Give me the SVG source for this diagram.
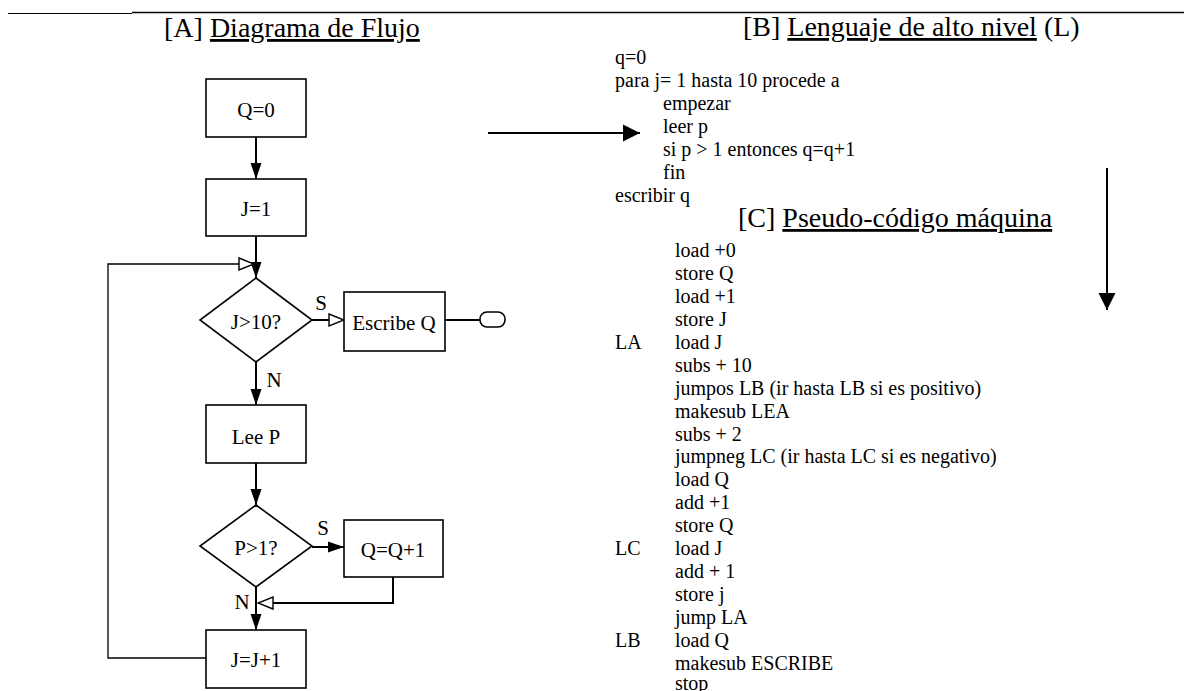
<svg xmlns="http://www.w3.org/2000/svg" width="1184" height="691" viewBox="0 0 1184 691">
<style>
text{font-family:"Liberation Serif","Times New Roman",serif;fill:#000}
.t{font-size:28px}
.n{font-size:21px;text-anchor:middle}
.c{font-size:20px}
.box{fill:#fff;stroke:#000;stroke-width:1.6}
.con{fill:none;stroke:#000;stroke-width:2}
.thin{fill:none;stroke:#000;stroke-width:1.3}
</style>
<defs>
<marker id="fa" markerUnits="userSpaceOnUse" markerWidth="16" markerHeight="12" refX="16" refY="6" orient="auto"><path d="M0,0.5 L16,6 L0,11.5 z" fill="#000"/></marker>
<marker id="ha" markerUnits="userSpaceOnUse" markerWidth="17" markerHeight="14" refX="16" refY="7" orient="auto"><path d="M1,1 L16,7 L1,13 z" fill="#fff" stroke="#000" stroke-width="1.4"/></marker>
<marker id="ba" markerUnits="userSpaceOnUse" markerWidth="17" markerHeight="18" refX="17" refY="9" orient="auto"><path d="M0,0.5 L17,9 L0,17.5 z" fill="#000"/></marker>
</defs>
<rect width="1184" height="691" fill="#fff"/>
<line x1="8" y1="13.5" x2="132" y2="13.5" stroke="#000" stroke-width="1"/>
<line x1="132" y1="12.5" x2="1184" y2="12.5" stroke="#000" stroke-width="1.6"/>
<g id="titles">
<text class="t" x="164" y="37">[A] <tspan text-decoration="underline">Diagrama de Flujo</tspan></text>
<text class="t" x="743" y="36">[B] <tspan text-decoration="underline">Lenguaje de alto nivel</tspan> (L)</text>
<text class="t" x="738" y="227">[C] <tspan text-decoration="underline">Pseudo-código máquina</tspan></text>
</g>
<g id="connectors">
<path class="con" d="M256,137 V179" marker-end="url(#fa)"/>
<path class="con" d="M256,236 V278" marker-end="url(#fa)"/>
<path class="con" d="M312,320 H344" marker-end="url(#ha)"/>
<path class="con" d="M445,320 H480"/>
<path class="con" d="M256,362 V405" marker-end="url(#fa)"/>
<path class="con" d="M256,463 V505" marker-end="url(#fa)"/>
<path class="con" d="M312,547 H344" marker-end="url(#fa)"/>
<path class="con" d="M393,577 V603 H258" marker-end="url(#ha)"/>
<path class="con" d="M256,587 V630" marker-end="url(#fa)"/>
<path class="thin" d="M206,658 H108 V264 H254" marker-end="url(#ha)"/>
<path class="con" d="M488,133 H640" marker-end="url(#ba)"/>
<path class="con" d="M1107,168 V310" marker-end="url(#ba)"/>
<text class="n" x="321" y="310">S</text>
<text class="n" x="274" y="387">N</text>
<text class="n" x="323" y="535">S</text>
<text class="n" x="242" y="609">N</text>
</g>
<g id="node-q0"><rect class="box" x="206" y="79" width="100" height="58"/><text class="n" x="256" y="117">Q=0</text></g>
<g id="node-j1"><rect class="box" x="206" y="179" width="100" height="57"/><text class="n" x="256" y="216">J=1</text></g>
<g id="node-d1"><path class="box" d="M256,278 L312,320 L256,362 L200,320 z"/><text class="n" x="256" y="329">J&gt;10?</text></g>
<g id="node-escribe"><rect class="box" x="344" y="292" width="101" height="59"/><text class="n" x="394" y="330">Escribe Q</text></g>
<g id="node-end"><rect class="box" x="480" y="312" width="25" height="15" rx="7" ry="7"/></g>
<g id="node-leep"><rect class="box" x="206" y="405" width="100" height="58"/><text class="n" x="256" y="444">Lee P</text></g>
<g id="node-d2"><path class="box" d="M256,505 L312,546 L256,587 L200,546 z"/><text class="n" x="256" y="555">P&gt;1?</text></g>
<g id="node-qq1"><rect class="box" x="344" y="520" width="99" height="57"/><text class="n" x="393" y="557">Q=Q+1</text></g>
<g id="node-jj1"><rect class="box" x="206" y="630" width="100" height="58"/><text class="n" x="256" y="667">J=J+1</text></g>
<g id="code-b">
<text class="c" x="615" y="64">q=0</text>
<text class="c" x="615" y="87">para j= 1 hasta 10 procede a</text>
<text class="c" x="663" y="110">empezar</text>
<text class="c" x="663" y="133">leer p</text>
<text class="c" x="663" y="156">si p &gt; 1 entonces q=q+1</text>
<text class="c" x="663" y="179">fin</text>
<text class="c" x="615" y="202">escribir q</text>
</g>
<g id="code-c">
<text class="c" x="615" y="349">LA</text>
<text class="c" x="615" y="555">LC</text>
<text class="c" x="615" y="647">LB</text>
<text class="c" x="675" y="257">load +0</text>
<text class="c" x="675" y="280">store Q</text>
<text class="c" x="675" y="303">load +1</text>
<text class="c" x="675" y="326">store J</text>
<text class="c" x="675" y="349">load J</text>
<text class="c" x="675" y="372">subs + 10</text>
<text class="c" x="675" y="395">jumpos LB (ir hasta LB si es positivo)</text>
<text class="c" x="675" y="418">makesub LEA</text>
<text class="c" x="675" y="441">subs + 2</text>
<text class="c" x="675" y="463">jumpneg LC (ir hasta LC si es negativo)</text>
<text class="c" x="675" y="486">load Q</text>
<text class="c" x="675" y="509">add +1</text>
<text class="c" x="675" y="532">store Q</text>
<text class="c" x="675" y="555">load J</text>
<text class="c" x="675" y="578">add + 1</text>
<text class="c" x="675" y="601">store j</text>
<text class="c" x="675" y="624">jump LA</text>
<text class="c" x="675" y="647">load Q</text>
<text class="c" x="675" y="670">makesub ESCRIBE</text>
<text class="c" x="675" y="690">stop</text>
</g>
</svg>
